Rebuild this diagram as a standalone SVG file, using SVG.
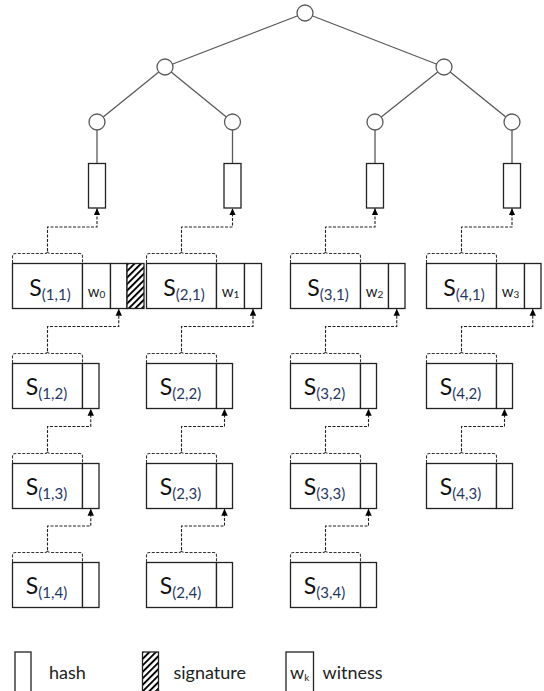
<svg xmlns="http://www.w3.org/2000/svg" width="544" height="691" viewBox="0 0 544 691">
<style>
.edge{stroke:#5a5a5a;stroke-width:1.3;fill:none}
.node{fill:#fff;stroke:#5a5a5a;stroke-width:1.3}
.cell{fill:#fff;stroke:#222;stroke-width:1.3}
.hatchcell{fill:url(#hatch);stroke:#222;stroke-width:1.3}
.dash{fill:none;stroke:#222;stroke-width:1.1;stroke-dasharray:3 1.5}
.brace{fill:none;stroke:#333;stroke-width:1.1;stroke-dasharray:3 1.5}
.s{font-family:Lato,"Liberation Sans",sans-serif;font-size:23px;fill:#111}
.sub{font-size:15px;fill:#1f3864}
.w{font-family:Lato,"Liberation Sans",sans-serif;font-size:15px;fill:#222}
.wsub{font-size:10px}
.leg{font-family:Lato,"Liberation Sans",sans-serif;font-size:18px;fill:#222}
</style>
<defs>
<pattern id="hatch" patternUnits="userSpaceOnUse" width="4.6" height="10" patternTransform="rotate(45)">
<rect x="0" y="0" width="4.6" height="10" fill="#fff"/>
<rect x="0" y="0" width="1.9" height="10" fill="#000"/>
</pattern>
<marker id="ah" markerUnits="userSpaceOnUse" markerWidth="7" markerHeight="7" refX="7" refY="3.5" orient="auto" viewBox="0 0 7 7">
<path d="M0,0.3 L7,3.5 L0,6.7 z" fill="#000"/>
</marker>
</defs>

<g id="tree-edges">
<line class="edge" x1="305" y1="13" x2="165" y2="67"/>
<line class="edge" x1="305" y1="13" x2="444" y2="67"/>
<line class="edge" x1="165" y1="67" x2="97" y2="122"/>
<line class="edge" x1="165" y1="67" x2="232.5" y2="122"/>
<line class="edge" x1="444" y1="67" x2="375" y2="122"/>
<line class="edge" x1="444" y1="67" x2="512" y2="122"/>
<line class="edge" x1="97" y1="122" x2="97" y2="163.5"/>
<line class="edge" x1="232.5" y1="122" x2="232.5" y2="163.5"/>
<line class="edge" x1="375" y1="122" x2="375" y2="163.5"/>
<line class="edge" x1="512" y1="122" x2="512" y2="163.5"/>
</g>

<g id="root"><circle class="node" cx="305" cy="13" r="8"/></g>
<g id="n-l"><circle class="node" cx="165" cy="67" r="8"/></g>
<g id="n-r"><circle class="node" cx="444" cy="67" r="8"/></g>
<g id="n-ll"><circle class="node" cx="97" cy="122" r="8"/></g>
<g id="n-lr"><circle class="node" cx="232.5" cy="122" r="8"/></g>
<g id="n-rl"><circle class="node" cx="375" cy="122" r="8"/></g>
<g id="n-rr"><circle class="node" cx="512" cy="122" r="8"/></g>

<g id="h1"><rect class="cell" x="88.5" y="163.5" width="17" height="44.5"/></g>
<g id="h2"><rect class="cell" x="224" y="163.5" width="17" height="44.5"/></g>
<g id="h3"><rect class="cell" x="366.5" y="163.5" width="17" height="44.5"/></g>
<g id="h4"><rect class="cell" x="503.5" y="163.5" width="17" height="44.5"/></g>

<g id="S11">
<rect class="cell" x="12.5" y="263.5" width="70" height="45"/>
<rect class="cell" x="82.5" y="263.5" width="28" height="45"/>
<rect class="cell" x="110.5" y="263.5" width="16.5" height="45"/>
<rect class="hatchcell" x="127" y="263.5" width="17" height="45"/>
<text class="s" x="50" y="295.5" text-anchor="middle">S<tspan class="sub" dy="4">(1,1)</tspan></text>
<text class="w" x="96.5" y="297" text-anchor="middle">w<tspan class="wsub" dy="1">0</tspan></text>
</g>
<g id="S21">
<rect class="cell" x="146.5" y="263.5" width="70" height="45"/>
<rect class="cell" x="216.5" y="263.5" width="28" height="45"/>
<rect class="cell" x="244.5" y="263.5" width="17" height="45"/>
<text class="s" x="184" y="295.5" text-anchor="middle">S<tspan class="sub" dy="4">(2,1)</tspan></text>
<text class="w" x="230.5" y="297" text-anchor="middle">w<tspan class="wsub" dy="1">1</tspan></text>
</g>
<g id="S31">
<rect class="cell" x="290.5" y="263.5" width="70" height="45"/>
<rect class="cell" x="360.5" y="263.5" width="28" height="45"/>
<rect class="cell" x="388.5" y="263.5" width="16.5" height="45"/>
<text class="s" x="328" y="295.5" text-anchor="middle">S<tspan class="sub" dy="4">(3,1)</tspan></text>
<text class="w" x="374.5" y="297" text-anchor="middle">w<tspan class="wsub" dy="1">2</tspan></text>
</g>
<g id="S41">
<rect class="cell" x="426.5" y="263.5" width="70" height="45"/>
<rect class="cell" x="496.5" y="263.5" width="28" height="45"/>
<rect class="cell" x="524.5" y="263.5" width="16.5" height="45"/>
<text class="s" x="464" y="295.5" text-anchor="middle">S<tspan class="sub" dy="4">(4,1)</tspan></text>
<text class="w" x="510.5" y="297" text-anchor="middle">w<tspan class="wsub" dy="1">3</tspan></text>
</g>

<g id="S12"><rect class="cell" x="12.5" y="363.5" width="70" height="45"/><rect class="cell" x="82.5" y="363.5" width="16.5" height="45"/>
<text class="s" x="46.5" y="395" text-anchor="middle">S<tspan class="sub" dy="4">(1,2)</tspan></text></g>
<g id="S13"><rect class="cell" x="12.5" y="463.5" width="70" height="45"/><rect class="cell" x="82.5" y="463.5" width="16.5" height="45"/>
<text class="s" x="46.5" y="495" text-anchor="middle">S<tspan class="sub" dy="4">(1,3)</tspan></text></g>
<g id="S14"><rect class="cell" x="12.5" y="562.5" width="70" height="45"/><rect class="cell" x="82.5" y="562.5" width="16.5" height="45"/>
<text class="s" x="46.5" y="594" text-anchor="middle">S<tspan class="sub" dy="4">(1,4)</tspan></text></g>

<g id="S22"><rect class="cell" x="146.5" y="363.5" width="70" height="45"/><rect class="cell" x="216.5" y="363.5" width="16" height="45"/>
<text class="s" x="180.5" y="395" text-anchor="middle">S<tspan class="sub" dy="4">(2,2)</tspan></text></g>
<g id="S23"><rect class="cell" x="146.5" y="463.5" width="70" height="45"/><rect class="cell" x="216.5" y="463.5" width="16" height="45"/>
<text class="s" x="180.5" y="495" text-anchor="middle">S<tspan class="sub" dy="4">(2,3)</tspan></text></g>
<g id="S24"><rect class="cell" x="146.5" y="562.5" width="70" height="45"/><rect class="cell" x="216.5" y="562.5" width="16" height="45"/>
<text class="s" x="180.5" y="594" text-anchor="middle">S<tspan class="sub" dy="4">(2,4)</tspan></text></g>

<g id="S32"><rect class="cell" x="290.5" y="363.5" width="70" height="45"/><rect class="cell" x="360.5" y="363.5" width="16" height="45"/>
<text class="s" x="324.5" y="395" text-anchor="middle">S<tspan class="sub" dy="4">(3,2)</tspan></text></g>
<g id="S33"><rect class="cell" x="290.5" y="463.5" width="70" height="45"/><rect class="cell" x="360.5" y="463.5" width="16" height="45"/>
<text class="s" x="324.5" y="495" text-anchor="middle">S<tspan class="sub" dy="4">(3,3)</tspan></text></g>
<g id="S34"><rect class="cell" x="290.5" y="562.5" width="70" height="45"/><rect class="cell" x="360.5" y="562.5" width="16" height="45"/>
<text class="s" x="324.5" y="594" text-anchor="middle">S<tspan class="sub" dy="4">(3,4)</tspan></text></g>

<g id="S42"><rect class="cell" x="426.5" y="363.5" width="70" height="45"/><rect class="cell" x="496.5" y="363.5" width="16" height="45"/>
<text class="s" x="460.5" y="395" text-anchor="middle">S<tspan class="sub" dy="4">(4,2)</tspan></text></g>
<g id="S43"><rect class="cell" x="426.5" y="463.5" width="70" height="45"/><rect class="cell" x="496.5" y="463.5" width="16" height="45"/>
<text class="s" x="460.5" y="495" text-anchor="middle">S<tspan class="sub" dy="4">(4,3)</tspan></text></g>

<g id="connectors">
<path class="brace" d="M12.5,263 V256.5 Q12.5,253.5 15.5,253.5 H44.5 Q47.5,253.5 47.5,251 Q47.5,253.5 50.5,253.5 H79.5 Q82.5,253.5 82.5,256.5 V263"/>
<path class="brace" d="M146.5,263 V256.5 Q146.5,253.5 149.5,253.5 H178.5 Q181.5,253.5 181.5,251 Q181.5,253.5 184.5,253.5 H213.5 Q216.5,253.5 216.5,256.5 V263"/>
<path class="brace" d="M290.5,263 V256.5 Q290.5,253.5 293.5,253.5 H322.5 Q325.5,253.5 325.5,251 Q325.5,253.5 328.5,253.5 H357.5 Q360.5,253.5 360.5,256.5 V263"/>
<path class="brace" d="M426.5,263 V256.5 Q426.5,253.5 429.5,253.5 H458.5 Q461.5,253.5 461.5,251 Q461.5,253.5 464.5,253.5 H493.5 Q496.5,253.5 496.5,256.5 V263"/>

<path class="brace" d="M12.5,363 V356.5 Q12.5,353.5 15.5,353.5 H44.5 Q47.5,353.5 47.5,351 Q47.5,353.5 50.5,353.5 H79.5 Q82.5,353.5 82.5,356.5 V363"/>
<path class="brace" d="M12.5,463 V456.5 Q12.5,453.5 15.5,453.5 H44.5 Q47.5,453.5 47.5,451 Q47.5,453.5 50.5,453.5 H79.5 Q82.5,453.5 82.5,456.5 V463"/>
<path class="brace" d="M12.5,562 V555.5 Q12.5,552.5 15.5,552.5 H44.5 Q47.5,552.5 47.5,550 Q47.5,552.5 50.5,552.5 H79.5 Q82.5,552.5 82.5,555.5 V562"/>

<path class="brace" d="M146.5,363 V356.5 Q146.5,353.5 149.5,353.5 H178.5 Q181.5,353.5 181.5,351 Q181.5,353.5 184.5,353.5 H213.5 Q216.5,353.5 216.5,356.5 V363"/>
<path class="brace" d="M146.5,463 V456.5 Q146.5,453.5 149.5,453.5 H178.5 Q181.5,453.5 181.5,451 Q181.5,453.5 184.5,453.5 H213.5 Q216.5,453.5 216.5,456.5 V463"/>
<path class="brace" d="M146.5,562 V555.5 Q146.5,552.5 149.5,552.5 H178.5 Q181.5,552.5 181.5,550 Q181.5,552.5 184.5,552.5 H213.5 Q216.5,552.5 216.5,555.5 V562"/>

<path class="brace" d="M290.5,363 V356.5 Q290.5,353.5 293.5,353.5 H322.5 Q325.5,353.5 325.5,351 Q325.5,353.5 328.5,353.5 H357.5 Q360.5,353.5 360.5,356.5 V363"/>
<path class="brace" d="M290.5,463 V456.5 Q290.5,453.5 293.5,453.5 H322.5 Q325.5,453.5 325.5,451 Q325.5,453.5 328.5,453.5 H357.5 Q360.5,453.5 360.5,456.5 V463"/>
<path class="brace" d="M290.5,562 V555.5 Q290.5,552.5 293.5,552.5 H322.5 Q325.5,552.5 325.5,550 Q325.5,552.5 328.5,552.5 H357.5 Q360.5,552.5 360.5,555.5 V562"/>

<path class="brace" d="M426.5,363 V356.5 Q426.5,353.5 429.5,353.5 H458.5 Q461.5,353.5 461.5,351 Q461.5,353.5 464.5,353.5 H493.5 Q496.5,353.5 496.5,356.5 V363"/>
<path class="brace" d="M426.5,463 V456.5 Q426.5,453.5 429.5,453.5 H458.5 Q461.5,453.5 461.5,451 Q461.5,453.5 464.5,453.5 H493.5 Q496.5,453.5 496.5,456.5 V463"/>

<path class="dash" marker-end="url(#ah)" d="M47.5,251 V227 H97 V208.3"/>
<path class="dash" marker-end="url(#ah)" d="M181.5,251 V227 H232.5 V208.3"/>
<path class="dash" marker-end="url(#ah)" d="M325.5,251 V227 H375 V208.3"/>
<path class="dash" marker-end="url(#ah)" d="M461.5,251 V227 H512 V208.3"/>

<path class="dash" marker-end="url(#ah)" d="M47.5,351 V326.5 H118.75 V308.8"/>
<path class="dash" marker-end="url(#ah)" d="M47.5,451 V426.5 H90.75 V408.8"/>
<path class="dash" marker-end="url(#ah)" d="M47.5,550 V526 H90.75 V508.8"/>

<path class="dash" marker-end="url(#ah)" d="M181.5,351 V326.5 H253 V308.8"/>
<path class="dash" marker-end="url(#ah)" d="M181.5,451 V426.5 H224.5 V408.8"/>
<path class="dash" marker-end="url(#ah)" d="M181.5,550 V526 H224.5 V508.8"/>

<path class="dash" marker-end="url(#ah)" d="M325.5,351 V326.5 H396.75 V308.8"/>
<path class="dash" marker-end="url(#ah)" d="M325.5,451 V426.5 H368.5 V408.8"/>
<path class="dash" marker-end="url(#ah)" d="M325.5,550 V526 H368.5 V508.8"/>

<path class="dash" marker-end="url(#ah)" d="M461.5,351 V326.5 H532.75 V308.8"/>
<path class="dash" marker-end="url(#ah)" d="M461.5,451 V426.5 H504.5 V408.8"/>
</g>

<g id="legend">
<rect class="cell" x="15" y="652" width="16" height="42"/>
<text class="leg" x="49" y="679">hash</text>
<rect class="hatchcell" x="142.5" y="652" width="16" height="42"/>
<text class="leg" x="173.5" y="679">signature</text>
<rect class="cell" x="286" y="652" width="27.5" height="42"/>
<text class="leg" x="290" y="679">w<tspan font-size="10" dy="2">k</tspan></text>
<text class="leg" x="322.5" y="679">witness</text>
</g>
</svg>
